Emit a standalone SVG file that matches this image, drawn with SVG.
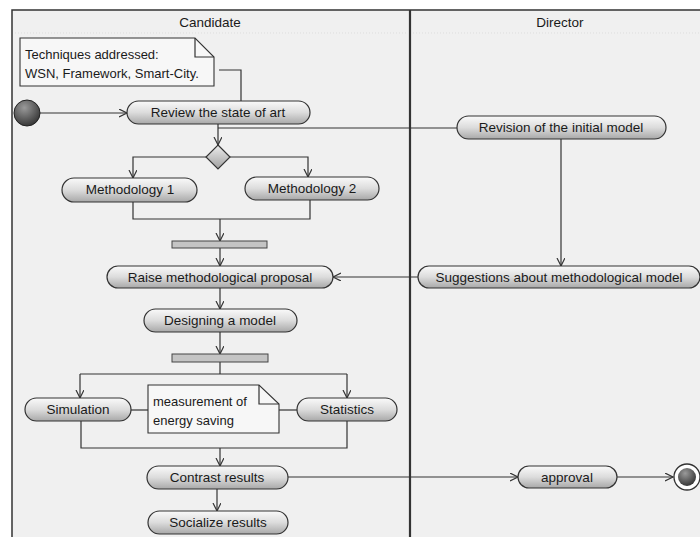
<svg xmlns="http://www.w3.org/2000/svg" width="700" height="537" viewBox="0 0 700 537">
<style>
.lbl{font-family:"Liberation Sans",Arial,sans-serif;font-size:13.5px;fill:#1a1a1a;text-anchor:middle}
.nt{font-family:"Liberation Sans",Arial,sans-serif;font-size:13px;fill:#1a1a1a}
.act{fill:url(#ag);stroke:#333;stroke-width:1.2}
.bar{fill:#c4c4c4;stroke:#444;stroke-width:1}
.note{fill:#f7f7f7;stroke:#333;stroke-width:1.1}
.c{fill:none;stroke:#333;stroke-width:1.2}
.ca{fill:none;stroke:#333;stroke-width:1.2;marker-end:url(#ar)}
</style>
<defs>
<linearGradient id="ag" x1="0" y1="0" x2="0" y2="1">
<stop offset="0" stop-color="#fafafa"/>
<stop offset="0.5" stop-color="#dcdcdc"/>
<stop offset="1" stop-color="#a8a8a8"/>
</linearGradient>
<radialGradient id="ig" cx="0.4" cy="0.3" r="0.8">
<stop offset="0" stop-color="#9a9a9a"/>
<stop offset="1" stop-color="#2a2a2a"/>
</radialGradient>
<linearGradient id="dg" x1="0" y1="0" x2="0" y2="1">
<stop offset="0" stop-color="#ededed"/>
<stop offset="1" stop-color="#a0a0a0"/>
</linearGradient>
<marker id="ar" markerWidth="10" markerHeight="10" refX="8" refY="4" orient="auto" markerUnits="userSpaceOnUse">
<path d="M0,0 L8,4 L0,8" fill="none" stroke="#333" stroke-width="1.2"/>
</marker>
</defs>
<rect x="0" y="0" width="700" height="537" fill="#ffffff"/>
<g id="lanes">
<rect x="12" y="10" width="700" height="540" fill="#f0f0f0" stroke="#333" stroke-width="1.5"/>
<line x1="410" y1="10" x2="410" y2="537" stroke="#333" stroke-width="2.2"/>
<line x1="15" y1="33" x2="407" y2="33" stroke="#ddd" stroke-width="1" stroke-dasharray="1,2"/>
<line x1="413" y1="33" x2="700" y2="33" stroke="#ddd" stroke-width="1" stroke-dasharray="1,2"/>
<text class="lbl" x="210" y="27">Candidate</text>
<text class="lbl" x="560" y="27">Director</text>
</g>
<g id="connectors">
<polyline class="c" points="219,70 241,70 241,101"/>
<line class="ca" x1="40" y1="113" x2="127" y2="113"/>
<line class="ca" x1="218" y1="124" x2="218" y2="145"/>
<line class="c" x1="218" y1="128" x2="457" y2="128"/>
<polyline class="ca" points="206,157 133,157 133,178"/>
<polyline class="ca" points="230,157 308,157 308,177"/>
<polyline class="c" points="133,202 133,219 310,219 310,200"/>
<line class="ca" x1="220" y1="219" x2="220" y2="241"/>
<line class="ca" x1="220" y1="248" x2="220" y2="266"/>
<line class="ca" x1="561" y1="139" x2="561" y2="266"/>
<line class="ca" x1="418" y1="277" x2="333" y2="277"/>
<line class="ca" x1="220" y1="288" x2="220" y2="309"/>
<line class="ca" x1="220" y1="332" x2="220" y2="354"/>
<line class="c" x1="220" y1="362" x2="220" y2="374"/>
<polyline class="ca" points="80,374 80,398"/>
<polyline class="c" points="80,374 347,374"/>
<line class="ca" x1="347" y1="374" x2="347" y2="398"/>
<line class="c" x1="131" y1="410" x2="148" y2="410"/>
<line class="c" x1="279" y1="410" x2="297" y2="410"/>
<polyline class="c" points="81,421 81,448 347,448 347,421"/>
<line class="ca" x1="220" y1="448" x2="220" y2="466"/>
<line class="ca" x1="288" y1="477" x2="518" y2="477"/>
<line class="ca" x1="617" y1="477" x2="673" y2="477"/>
<line class="ca" x1="217" y1="489" x2="217" y2="511"/>
</g>
<g id="note1">
<path class="note" d="M20,38 H195 L214,57 V86 H20 Z"/>
<path class="c" d="M195,38 V57 H214"/>
<text class="nt" x="25" y="59">Techniques addressed:</text>
<text class="nt" x="25" y="78">WSN, Framework, Smart-City.</text>
</g>
<g id="initial">
<circle cx="27" cy="113" r="13" fill="url(#ig)" stroke="#222" stroke-width="1"/>
</g>
<g id="review">
<rect class="act" x="127" y="101" width="183" height="23" rx="11.5"/>
<text class="lbl" x="218" y="117">Review the state of art</text>
</g>
<g id="decision">
<path d="M218,145 L230,157 L218,169 L206,157 Z" fill="url(#dg)" stroke="#333" stroke-width="1.2"/>
</g>
<g id="revision">
<rect class="act" x="457" y="116" width="209" height="23" rx="11.5"/>
<text class="lbl" x="561" y="132">Revision of the initial model</text>
</g>
<g id="meth1">
<rect class="act" x="62" y="178" width="135" height="24" rx="12"/>
<text class="lbl" x="130" y="194">Methodology 1</text>
</g>
<g id="meth2">
<rect class="act" x="245" y="177" width="134" height="23" rx="11.5"/>
<text class="lbl" x="312" y="193">Methodology 2</text>
</g>
<g id="join1">
<rect class="bar" x="172" y="241" width="95" height="7"/>
</g>
<g id="raise">
<rect class="act" x="107" y="266" width="226" height="22" rx="11"/>
<text class="lbl" x="220" y="282">Raise methodological proposal</text>
</g>
<g id="suggestions">
<rect class="act" x="418" y="266" width="282" height="22" rx="11"/>
<text class="lbl" x="559" y="282">Suggestions about methodological model</text>
</g>
<g id="designing">
<rect class="act" x="144" y="309" width="153" height="23" rx="11.5"/>
<text class="lbl" x="220" y="325">Designing a model</text>
</g>
<g id="fork2">
<rect class="bar" x="172" y="354" width="96" height="8"/>
</g>
<g id="simulation">
<rect class="act" x="25" y="398" width="106" height="23" rx="11.5"/>
<text class="lbl" x="78" y="414">Simulation</text>
</g>
<g id="note2">
<path class="note" d="M148,385 H259 L279,404 V433 H148 Z"/>
<path class="c" d="M259,385 V404 H279"/>
<text class="nt" x="153" y="406">measurement of</text>
<text class="nt" x="153" y="425">energy saving</text>
</g>
<g id="statistics">
<rect class="act" x="297" y="398" width="100" height="23" rx="11.5"/>
<text class="lbl" x="347" y="414">Statistics</text>
</g>
<g id="contrast">
<rect class="act" x="147" y="466" width="141" height="23" rx="11.5"/>
<text class="lbl" x="217" y="482">Contrast results</text>
</g>
<g id="approval">
<rect class="act" x="518" y="466" width="99" height="22" rx="11"/>
<text class="lbl" x="567" y="482">approval</text>
</g>
<g id="final">
<circle cx="687" cy="477" r="13" fill="#fff" stroke="#333" stroke-width="1.3"/>
<circle cx="687" cy="477" r="9" fill="url(#ig)"/>
</g>
<g id="socialize">
<rect class="act" x="148" y="511" width="140" height="23" rx="11.5"/>
<text class="lbl" x="218" y="527">Socialize results</text>
</g>
</svg>
